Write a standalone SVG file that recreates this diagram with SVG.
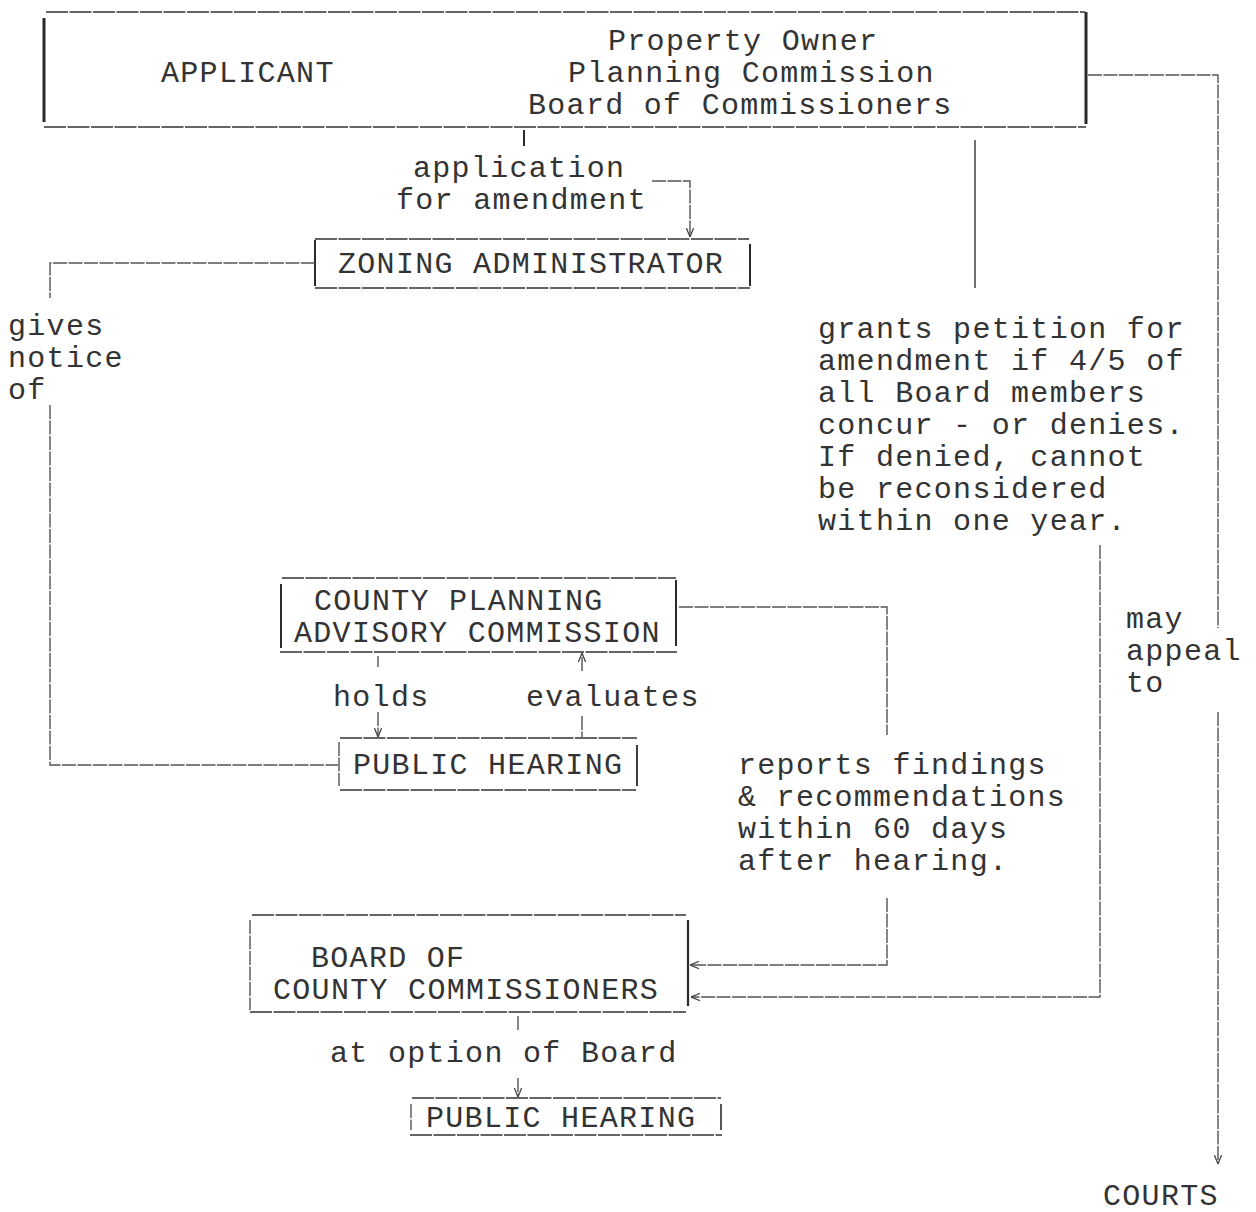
<svg xmlns="http://www.w3.org/2000/svg" width="1256" height="1212" viewBox="0 0 1256 1212">
<style>
text{font-family:"Liberation Mono","Courier New",monospace;font-size:30px;letter-spacing:1.3px;fill:#333}
.e{fill:none;stroke:#333;stroke-width:1.6;stroke-dasharray:22 1.5}
.th{fill:none;stroke:#2a2a2a;stroke-width:3}
.c{fill:none;stroke:#555;stroke-width:1.4;stroke-dasharray:14 1.5}
</style>
<defs>
<marker id="ah" viewBox="0 0 10 10" refX="10" refY="5" markerWidth="9" markerHeight="9" orient="auto" markerUnits="userSpaceOnUse">
<path d="M0,1 L10,5 L0,9" fill="none" stroke="#444" stroke-width="1.4"/>
</marker>
</defs>
<rect width="1256" height="1212" fill="#fff"/>

<g id="applicant">
<path class="e" d="M46,12 H1085 M44,127 H1086"/>
<path class="th" d="M44,18 V122 M1086,12 V124"/>
<text x="161" y="82">APPLICANT</text>
<text x="608" y="50">Property Owner</text>
<text x="568" y="82">Planning Commission</text>
<text x="528" y="114">Board of Commissioners</text>
</g>

<g id="zoning">
<path class="e" d="M315,239 H749 M315,288 H750"/>
<path class="th" d="M315,240 V286 M750,244 V286" style="stroke-width:2"/>
<text x="338" y="273">ZONING ADMINISTRATOR</text>
</g>

<g id="cpac">
<path class="e" d="M282,578 H676 M280,652 H677"/>
<path class="th" d="M281,584 V648 M676,580 V646" style="stroke-width:2"/>
<text x="314" y="610">COUNTY PLANNING</text>
<text x="294" y="642">ADVISORY COMMISSION</text>
</g>

<g id="hearing1">
<path class="e" d="M340,738 H637 M340,790 H636"/>
<path class="c" d="M339,742 V786"/>
<path class="th" d="M637,745 V786" style="stroke-width:1.8"/>
<text x="353" y="774">PUBLIC HEARING</text>
</g>

<g id="board">
<path class="e" d="M252,915 H686 M250,1012 H686"/>
<path class="c" d="M250,920 V1010"/>
<path class="th" d="M688,920 V1006" style="stroke-width:2.2"/>
<text x="311" y="967">BOARD OF</text>
<text x="273" y="999">COUNTY COMMISSIONERS</text>
</g>

<g id="hearing2">
<path class="e" d="M412,1098 H721 M410,1135 H722"/>
<path class="c" d="M411,1104 V1130"/>
<path class="th" d="M721,1104 V1130" style="stroke-width:1.6"/>
<text x="426" y="1127">PUBLIC HEARING</text>
</g>

<g id="courts">
<text x="1103" y="1205">COURTS</text>
</g>

<g id="labels">
<text x="413" y="177">application</text>
<text x="396" y="209">for amendment</text>
<text x="8" y="335">gives</text>
<text x="8" y="367">notice</text>
<text x="8" y="399">of</text>
<text x="818" y="338">grants petition for</text>
<text x="818" y="370">amendment if 4/5 of</text>
<text x="818" y="402">all Board members</text>
<text x="818" y="434">concur - or denies.</text>
<text x="818" y="466">If denied, cannot</text>
<text x="818" y="498">be reconsidered</text>
<text x="818" y="530">within one year.</text>
<text x="333" y="706">holds</text>
<text x="526" y="706">evaluates</text>
<text x="738" y="774">reports findings</text>
<text x="738" y="806">&amp; recommendations</text>
<text x="738" y="838">within 60 days</text>
<text x="738" y="870">after hearing.</text>
<text x="1126" y="628">may</text>
<text x="1126" y="660">appeal</text>
<text x="1126" y="692">to</text>
<text x="330" y="1062">at option of Board</text>
</g>

<g id="connectors">
<path class="th" d="M524,130 V146" style="stroke-width:2"/>
<path class="c" d="M652,181 H690 V237" marker-end="url(#ah)"/>
<path class="c" d="M315,263 H50 V298"/>
<path class="c" d="M50,405 V765 H338"/>
<path class="c" d="M975,140 V288" style="stroke-dasharray:none;stroke:#333"/>
<path class="c" d="M1088,75 H1218 V628"/>
<path class="c" d="M1218,712 V1164" marker-end="url(#ah)"/>
<path class="c" d="M378,656 V667"/>
<path class="c" d="M378,712 V737" marker-end="url(#ah)"/>
<path class="c" d="M582,671 V653" marker-end="url(#ah)"/>
<path class="c" d="M582,716 V737"/>
<path class="c" d="M679,607 H887 V735"/>
<path class="c" d="M887,898 V965 H690" marker-end="url(#ah)"/>
<path class="c" d="M1100,545 V997 H691" marker-end="url(#ah)"/>
<path class="c" d="M518,1016 V1030"/>
<path class="c" d="M518,1078 V1097" marker-end="url(#ah)"/>
</g>
</svg>
